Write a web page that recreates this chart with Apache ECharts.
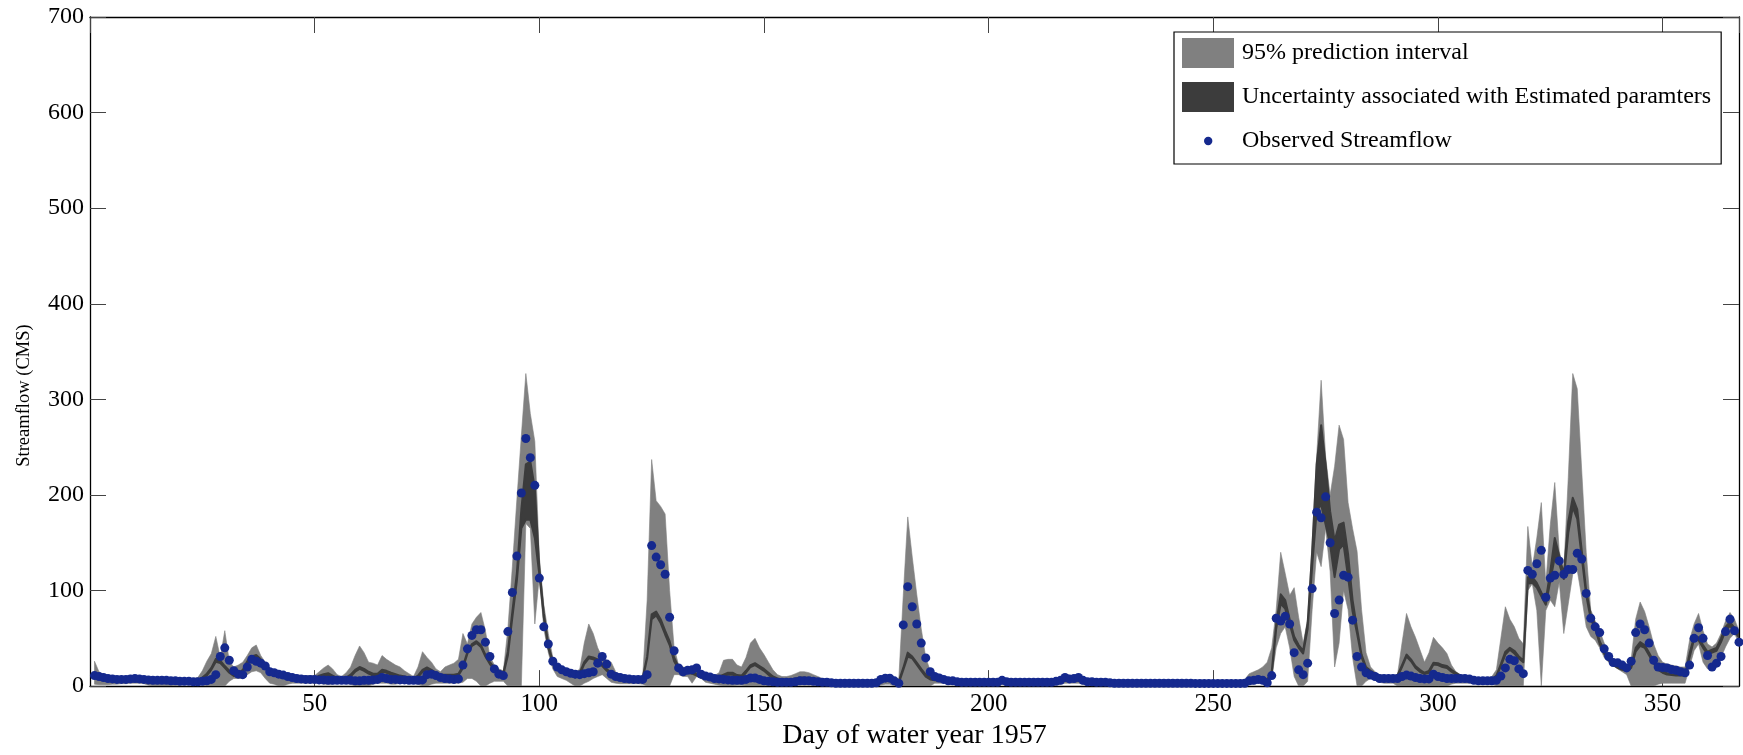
<!DOCTYPE html>
<html><head><meta charset="utf-8">
<script src="https://cdn.jsdelivr.net/npm/echarts@6/dist/echarts.min.js"></script>
<style>html,body{margin:0;padding:0;background:#fff}#c{width:1743px;height:755px}</style>
</head><body><div id="c"></div>
<script>
const observed = [
11,10,9,8,7.5,7,7,7,7.5,8,
7.5,7,6.5,6,6,6,6,5.5,5.5,5,
5,5,4.5,4.5,5,5.5,7,12,31,40,
27,16,12.5,12,20,28,26,24,21,15,
14,12.5,11.5,10,9,8,7.5,7,7,7,
6.5,6.5,6,6,6,6,6,6,5.5,5.5,
6,6,6.5,7,9,8,7,7,6.5,6.5,
6,6,6,6.5,12,12.5,11,9,8,7.5,
7,7.5,22,39,53,59,59,46,31,18,
12.5,11,57,98,136,202,259,239,210,113,
62,44,26,20,17,15,13.5,12.5,12,13,
14,15,24,31,23,12.5,10,9,8,7.5,
7,7,7,12,147,135,127,117,72,37,
19,15,16.5,17,19,12.5,10.5,9.5,8,7.5,
7,6.5,6,6,6,7,8.5,8.5,7,5.5,
5,4.5,4,4,4,4,4.5,5.5,5.5,5.5,
5,4.5,4,4,3.5,3,3,3,3,3,
3,3,3,3,3.5,7,8.3,8.3,5.5,3,
64,104,83,65,45,29.5,15,10,8.5,7,
5.5,5.5,4.5,4,4,4,4,4,4,4,
4,4,6,4.5,4,4,4,4,4,4,
4,4,4,4,5,6,9,7.5,8,9,
6,4.5,4.5,4,4,4,3.5,3,3,3,
3,3,3,3,3,3,3,3,3,3,
3,3,3,3,3,2.8,2.8,2.8,2.8,2.8,
2.8,2.8,2.8,2.8,2.8,2.8,3,5.5,6,7,
6,3.5,11,71,68,73,65,35,17,12,
24,102,182,176,198,150,76,90,116,114,
69,31,20,14,11.5,10,8,8,8,8,
8,10,11.5,10.5,9,8,7.5,7.5,12.5,10,
9,8,8,8,8,8,7.5,6,5.5,5.5,
5.5,5.5,6,10.5,19,28,26.5,18,13,121,
117,128,142,93,113,116,131,117,122,122,
139,133,97,71,62,56,39,31,24.6,24.3,
22,19,26,56,65,59,45,27,20,19.4,
19,17.3,16.6,15,14,22,50,61,50,32,
20,24,31,57,70,58,46];

const pi95Lo = [
2,1.5,1.5,1.5,2,2,2.5,2.5,3,3,
3,2.5,1,0,0,0,0,0,0.5,1,
1.5,2,2,2,1,0,0,0,0,0,
5,8,8,8,12,15,16,14,8,3,
2,0,0,2,3,3,3,3,3,3,
3,2,2,2,3,3,3,2,0,0,
0,0,2,3,3,3,2,2,3,3,
3,3,2,0,0,2,3,3,3,3,
3,3,4,8,8,5,0,0,3,5,
5,5,0,0,0,0,170,165,65,115,
60,35,18,10,8,6,3,0,0,3,
5,8,10,12,8,4,3,2.5,2.5,2.5,
2.5,2.5,2,0,0,0,0,0,0,12,
12,10,10,3,10,8,4,3,2,1,
0,0,0,1,1,0,0,0,0,0,
0,0,1,1,1,1,1,1,1,1,
1,1,1,0.5,0.5,0.5,0.5,0.5,0.5,0.5,
0.5,0.5,0.5,0.5,0.5,1,2,2,0,0,
0,0,0,0,0,0,0,3,3,3,
2,2,1.5,1.5,1.5,1.5,1.5,1.5,1.5,1.5,
1.5,1.5,2,1.5,1.5,1.5,1.5,1.5,1.5,1.5,
1.5,1.5,1.5,1.5,2,2,3,3,3,3,
2,1.5,1.5,1,1,1,1,1,1,1,
1,1,1,1,1,1,1,1,1,1,
1,1,1,1,1,1,1,1,1,1,
1,1,1,1,1,1,1,2,2,3,
3,2,8,40,55,62,40,10,0,0,
5,80,140,125,165,120,20,45,100,80,
30,0,0,5,8,6,4,3,3,3,
0,0,0,0,0,0,0,0,0,0,
0,0,2,3,3,3,3,2.5,2.5,2.5,
2.5,2.5,0,0,0,0,0,0,0,100,
107,79,0,79,90,83,109,55,86,117,
121,93,62,52,48,40,30,25,22,18,
15,12,0,0,0,0,0,0,2,3,
3,3,3,3,3,20,37,44,25,18,
17,20,30,41,50,55,45];

const pi95Hi = [
26,15,12,11,10.5,10,10,10,10.5,11,
10.5,10,9.5,9,9,9,9,8.5,8.5,8,
8,8,8,9,16,26,34,52,30,58,
26,20,22,25,32,40,43,32,25,19,
16,15,15,13,12,11.5,11,11,11,11,
15,19,22,18,12,10,14,20,32,42,
35,25,24,22,32,28,25,22,20,16,
13,10,20,36,30,25,18,15,20,22,
24,28,55,44,65,72,77,58,31,22,
18,16,60,125,195,262,327,285,256,135,
85,55,30,22,18,16,15,14,18,45,
65,55,40,30,27,25,15,11,10,9.5,
9,9,9,90,237,194,188,180,100,40,
22,20,19,20,21,15,13,12,11,14,
27,28,28,22,20,30,45,50,40,33,
25,17,12,10,10,11,13,15,15,14,
12,10,8,7,6.5,6,6,6,6,6,
6,6,6,6,7,10,11,11,9,7,
95,177,135,96,60,30,16,12,10,9,
8,8,7,6.5,6.5,6.5,6.5,6.5,6.5,6.5,
6.5,7,8,7,6.5,6.5,6.5,6.5,6.5,6.5,
6.5,6.5,6.5,6.5,7,9,11,10,11,11,
9,7,7,6.5,6.5,6.5,6,5.5,5.5,5.5,
5.5,5.5,5.5,5.5,5.5,5.5,5.5,5.5,5.5,5.5,
5.5,5.5,5.5,5.5,5.5,5.5,5.5,5.5,5.5,5.5,
5.5,5.5,5.5,5.5,5.5,5.5,7,13,15,17,
20,25,40,80,140,118,95,103,72,45,
70,150,240,320,240,200,230,273,258,192,
165,141,80,35,20,15,11,11,10,10,
12,45,76,62,51,38,25,35,51,45,
40,34,22,15,12,11,10,9,9,9,
9,10,17,50,83,70,62,50,44,167,
124,155,192,107,169,213,141,121,218,327,
311,225,140,80,68,58,45,34,27,25,
22,20,28,70,88,78,62,44,32,25,
23,22,21,20,20,48,65,76,58,44,
41,45,55,68,77,70,58];

const parLo = [
9,7,6,5.5,5,5,5,5,5,5,
4.5,4.5,4,4,4,4,3.5,3.5,3.5,3.5,
3.5,3.5,3.5,4,7,11,17,25.5,24,19,
14,10.5,11,15,24,29,30.5,26,21,16,
13,11,10,9,8,7,6.5,6,6,6,
9,10.5,11.5,9,6.5,6,7,10,15,18,
16,13,11,11,15,14,12,10.5,9,8,
7,6,9,15,17.5,15,12,10,10,10,
10,11,19,34,42,45,41,31,23,17,
14,12,32,72,110,165,174,174,155,117,
72,40,24,18,15.5,13,11,9,12,23,
29,28,26,21,16,12,9.5,8,7,6.5,
6.5,6.5,7,29,70,74,66,54,43,26,
18,16,14,13,11,9,8,7.5,7,8,
10,12,12,9.5,9,14,20,22,19,16,
12,8,6,5,4.5,5,6,7,7,6.5,
6,5,4,3.5,3,2.5,2.5,2.5,2.5,2.5,
2.5,2.5,2.5,2.5,3,5,6,6,4,3,
17,31,29,22.5,16,10,7,6,5.5,5,
4.5,4,3.5,3,3,3,3,3,3,3,
3,3,4,3.5,3,3,3,3,3,3,
3,3,3,3,4,5.5,7,6,6.5,7,
5,3.5,3.5,3,3,3,2.5,2,2,2,
2,2,2,2,2,2,2,2,2,2,
2,2,2,2,2,2,2,2,2,2,
2,2,2,2,2,2,2.5,4,5,5.5,
5,5,12,60,86,81,65,48,40,34,
60,125,183,190,169,148,114,143,148,114,
78,55,30,18,14,12,10,9.5,9,9,
10,20,31,26,19,15,12.5,14,22.5,22,
20,19,15,12,9,7,6,5,5,5,
5,5,9,21,33,38,34,29,25,107,
108,103,94,85,110,135,128,112,160,187,
175,135,95,70,60,44,34,27,22,19,
17,16,19,36,42,40,32,24,17,14,
12,11.5,11,11,11,30,49,48,40,33,
35,37,46,58,63,57,51];

const parHi = [
11,9,8,7.5,7,7,7,7,7,7,
6.5,6.5,6,6,6,6,5.5,5.5,5.5,5.5,
5.5,5.5,5.5,6,9,13,19,28.5,26.5,21,
16,12.5,13,17,26,31,32.5,28,23,18,
15,13,12,11,10,9,8.5,8,8,8,
11,12.5,13.5,11,8.5,8,9,12,17,20,
18,15,13,13,17,16,14,12.5,11,10,
9,8,11,17,19.5,17,14,12,12,12,
12,13,21,36,44,47,43,33,25,19,
16,14,36,78,118,185,232,235,207,124,
76,43,26,20,17.5,15,13,11,14,25,
31,30,28,23,18,14,11.5,10,9,8.5,
8.5,8.5,9,31,75,78,70,58,47,30,
20,18,16,15,13,11,10,9.5,9,10,
12,14,14,11.5,11,16,22,24,21,18,
14,10,8,7,6.5,7,8,9,9,8.5,
8,7,6,5.5,5,4.5,4.5,4.5,4.5,4.5,
4.5,4.5,4.5,4.5,5,7,8,8,6,5,
19,35,31,24.5,18,12,9,8,7.5,7,
6.5,6,5.5,5,5,5,5,5,5,5,
5,5,6,5.5,5,5,5,5,5,5,
5,5,5,5,6,7.5,9,8,8.5,9,
7,5.5,5.5,5,5,5,4.5,4,4,4,
4,4,4,4,4,4,4,4,4,4,
4,4,4,4,4,4,4,4,4,4,
4,4,4,4,4,4,4.5,6,7,7.5,
7,7,15,65,96,90,70,52,43,37,
66,140,232,273,232,183,152,169,171,138,
90,60,33,20,16,13,11,10.5,10,10,
11.5,22,33,28,21,17,14,16,24.5,24,
22,21,17,14,11,9,8,7,7,7,
7,7,11,23,36,40,37,31,27,114,
114,108,98,90,120,155,136,117,172,197,
185,142,100,75,64,47,37,29,24,21,
19,18,21,40,46,43,35,26,19,16,
13.5,12.5,12,12,12,34,52,51,43,36,
38,40,50,62,67,61,55];

const yTickValues = [0,100,200,300,400,500,600,700];
const xTickValues = [50,100,150,200,250,300,350];

const days = observed.map((_, i) => i + 1);
const FONT = 'Liberation Serif';
const GRAY = '#808080', DARK = '#3c3c3c', BLUE = '#15298e';

function bandData(lo, hi) { return days.map((d, i) => [d, lo[i], hi[i]]); }
function bandRenderer(lo, hi, color, strokeWidth) {
  return function (params, api) {
    if (params.dataIndex !== 0) return null;
    const pts = [];
    for (let i = 0; i < days.length; i++) pts.push(api.coord([days[i], hi[i]]));
    for (let i = days.length - 1; i >= 0; i--) pts.push(api.coord([days[i], lo[i]]));
    return {
      type: 'polygon', shape: {points: pts},
      style: {fill: color, stroke: strokeWidth ? color : null, lineWidth: strokeWidth, lineJoin: 'round'}
    };
  };
}

const chart = echarts.init(document.getElementById('c'), null, {renderer: 'canvas'});
const axisCommon = {
  axisLine: {show: true, onZero: false, lineStyle: {color: '#000', width: 1.3}},
  axisTick: {show: true, inside: true, length: 16, lineStyle: {color: '#444', width: 1}},
  splitLine: {show: false}
};
chart.setOption({
  animation: false,
  backgroundColor: '#fff',
  grid: {left: 90, right: 4, top: 17, bottom: 66, containLabel: false},
  xAxis: [
    Object.assign({
      type: 'value', min: 0, max: 367, interval: 50, position: 'bottom',
      name: 'Day of water year 1957', nameLocation: 'middle', nameGap: 32,
      nameTextStyle: {fontFamily: FONT, fontSize: 28, color: '#000'},
      axisLabel: {fontFamily: FONT, fontSize: 25, color: '#000', margin: 6,
        showMinLabel: false, showMaxLabel: false,
        formatter: v => xTickValues.includes(v) ? String(v) : ''}
    }, axisCommon),
    Object.assign({
      type: 'value', min: 0, max: 367, interval: 50, position: 'top',
      axisLabel: {show: false}
    }, axisCommon)
  ],
  yAxis: [
    Object.assign({
      type: 'value', min: 0, max: 700, interval: 100, position: 'left',
      name: 'Streamflow (CMS)', nameLocation: 'middle', nameGap: 56,
      nameTextStyle: {fontFamily: FONT, fontSize: 18.5, color: '#000', padding: [0, 88, 0, 0]},
      axisLabel: {fontFamily: FONT, fontSize: 24, color: '#000', margin: 6,
        formatter: v => yTickValues.includes(v) ? String(v) : ''}
    }, axisCommon),
    Object.assign({
      type: 'value', min: 0, max: 700, interval: 100, position: 'right',
      axisLabel: {show: false}
    }, axisCommon)
  ],
  legend: {
    orient: 'vertical', left: 1174, top: 32,
    itemWidth: 52, itemHeight: 30, itemGap: 14,
    borderColor: '#000', borderWidth: 1.2, backgroundColor: '#fff',
    padding: [6, 10, 8, 8],
    selectedMode: false,
    textStyle: {fontFamily: FONT, fontSize: 24, color: '#000', padding: [0, 0, 0, 3]},
    data: [
      {name: '95% prediction interval', icon: 'rect'},
      {name: 'Uncertainty associated with Estimated paramters', icon: 'rect'},
      {name: 'Observed Streamflow', icon: 'path://M0,0M52,30M22,15a4.2,4.2 0 1,0 8.4,0a4.2,4.2 0 1,0 -8.4,0z'}
    ]
  },
  series: [
    {name: '95% prediction interval', type: 'custom', clip: true, z: 2,
      data: bandData(pi95Lo, pi95Hi), encode: {x: 0, y: [1, 2]},
      itemStyle: {color: GRAY}, silent: true,
      renderItem: bandRenderer(pi95Lo, pi95Hi, GRAY, 0.6)},
    {name: 'Uncertainty associated with Estimated paramters', type: 'custom', clip: true, z: 3,
      data: bandData(parLo, parHi), encode: {x: 0, y: [1, 2]},
      itemStyle: {color: DARK}, silent: true,
      renderItem: bandRenderer(parLo, parHi, DARK, 2)},
    {name: 'Observed Streamflow', type: 'scatter', data: days.map((d, i) => [d, observed[i]]),
      symbol: 'circle', symbolSize: 9, itemStyle: {color: BLUE, opacity: 1}, silent: true, z: 4}
  ]
});
</script>
</body></html>
